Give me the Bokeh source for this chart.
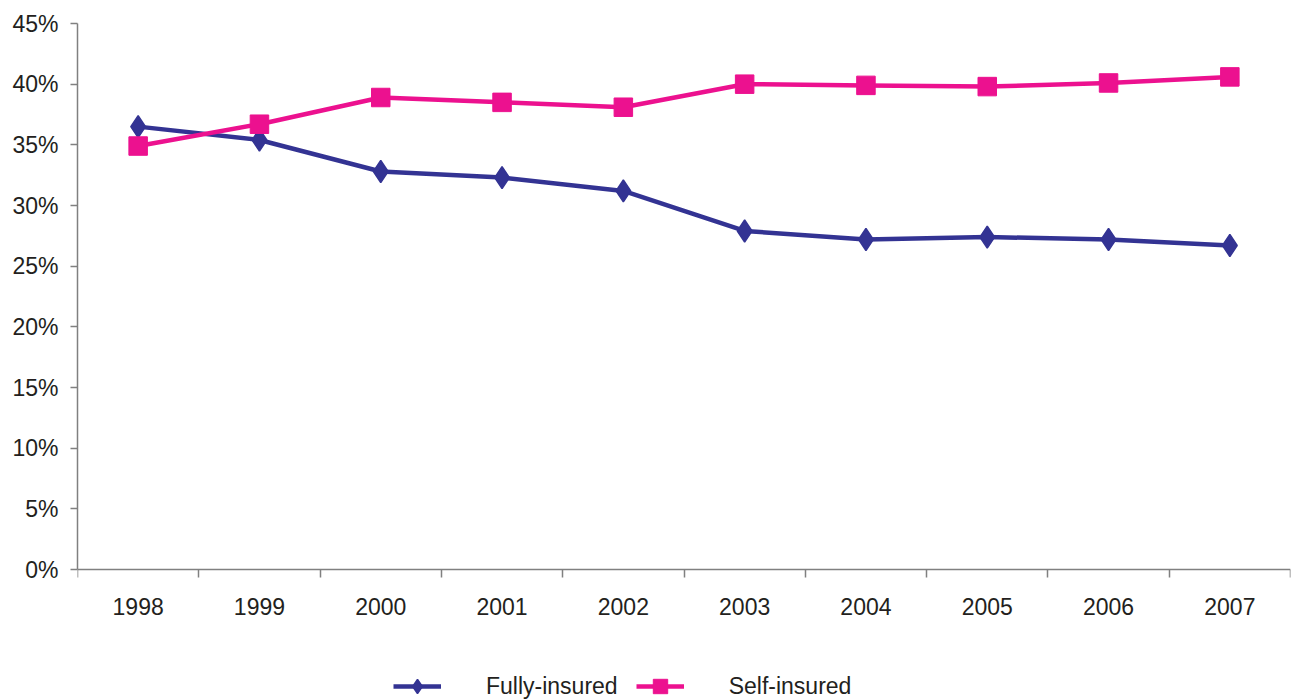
from bokeh.plotting import figure
from bokeh.models import FixedTicker, Range1d, Legend, LegendItem, PrintfTickFormatter
from bokeh.embed import file_html
from bokeh.resources import INLINE

years = ["1998", "1999", "2000", "2001", "2002", "2003", "2004", "2005", "2006", "2007"]
fully_insured = [36.5, 35.4, 32.8, 32.3, 31.2, 27.9, 27.2, 27.4, 27.2, 26.7]
self_insured = [34.9, 36.7, 38.9, 38.5, 38.1, 40.0, 39.9, 39.8, 40.1, 40.6]
y_ticks = [0, 5, 10, 15, 20, 25, 30, 35, 40, 45]

xs = list(range(1, len(years) + 1))
navy = "#333393"
pink = "#EC118F"
font = "Liberation Sans"
txt = "#231F20"

H = 700
TOP = 23
px_per_unit = (569 - 23) / 45.0
y_min = -(H - 569) / px_per_unit

p = figure(width=1291, height=H, output_backend="svg", toolbar_location=None,
           x_range=Range1d(0.5, len(years) + 0.5), y_range=Range1d(y_min, 45),
           min_border_left=77, min_border_right=1, min_border_top=TOP, min_border_bottom=0)
p.outline_line_color = None
p.xgrid.visible = False
p.ygrid.visible = False
p.background_fill_color = "white"
p.border_fill_color = "white"

r1 = p.line(xs, fully_insured, line_color=navy, line_width=4.5)
m1 = p.scatter(xs, fully_insured, marker="diamond", size=22,
               fill_color=navy, line_color=navy, line_width=1.5)
r2 = p.line(xs, self_insured, line_color=pink, line_width=4.5)
m2 = p.scatter(xs, self_insured, marker="square", size=18.5, fill_color=pink, line_color=pink)

xa = p.xaxis[0]
xa.fixed_location = 0
xa.ticker = FixedTicker(ticks=xs, minor_ticks=[x - 0.5 for x in xs] + [len(years) + 0.5])
xa.major_label_overrides = {x: y for x, y in zip(xs, years)}
xa.major_tick_out = 0
xa.major_tick_in = 0
xa.minor_tick_out = 8
xa.minor_tick_in = 0
xa.minor_tick_line_color = "#808080"
xa.minor_tick_line_width = 1.5
xa.axis_line_color = "#808080"
xa.axis_line_width = 1.5
xa.major_label_text_font = font
xa.major_label_text_font_size = "23px"
xa.major_label_text_color = txt
xa.major_label_standoff = 20

ya = p.yaxis[0]
ya.bounds = (0, 45)
ya.ticker = FixedTicker(ticks=y_ticks, minor_ticks=[])
ya.formatter = PrintfTickFormatter(format="%d%%")
ya.major_tick_out = 7
ya.major_tick_in = 0
ya.major_tick_line_color = "#808080"
ya.major_tick_line_width = 1.5
ya.axis_line_color = "#808080"
ya.axis_line_width = 1.5
ya.major_label_text_font = font
ya.major_label_text_font_size = "23px"
ya.major_label_text_color = txt
ya.major_label_standoff = 12

legend = Legend(items=[LegendItem(label="Fully-insured", renderers=[r1, m1]),
                       LegendItem(label="Self-insured", renderers=[r2, m2])],
                orientation="horizontal", location=(316, -4),
                label_text_font=font, label_text_font_size="23px", label_text_color=txt,
                glyph_width=48, glyph_height=36, label_standoff=45, spacing=18,
                border_line_color=None, background_fill_alpha=0,
                padding=0, margin=0)
p.add_layout(legend, "center")

open("out.html", "w").write(file_html(p, INLINE))
